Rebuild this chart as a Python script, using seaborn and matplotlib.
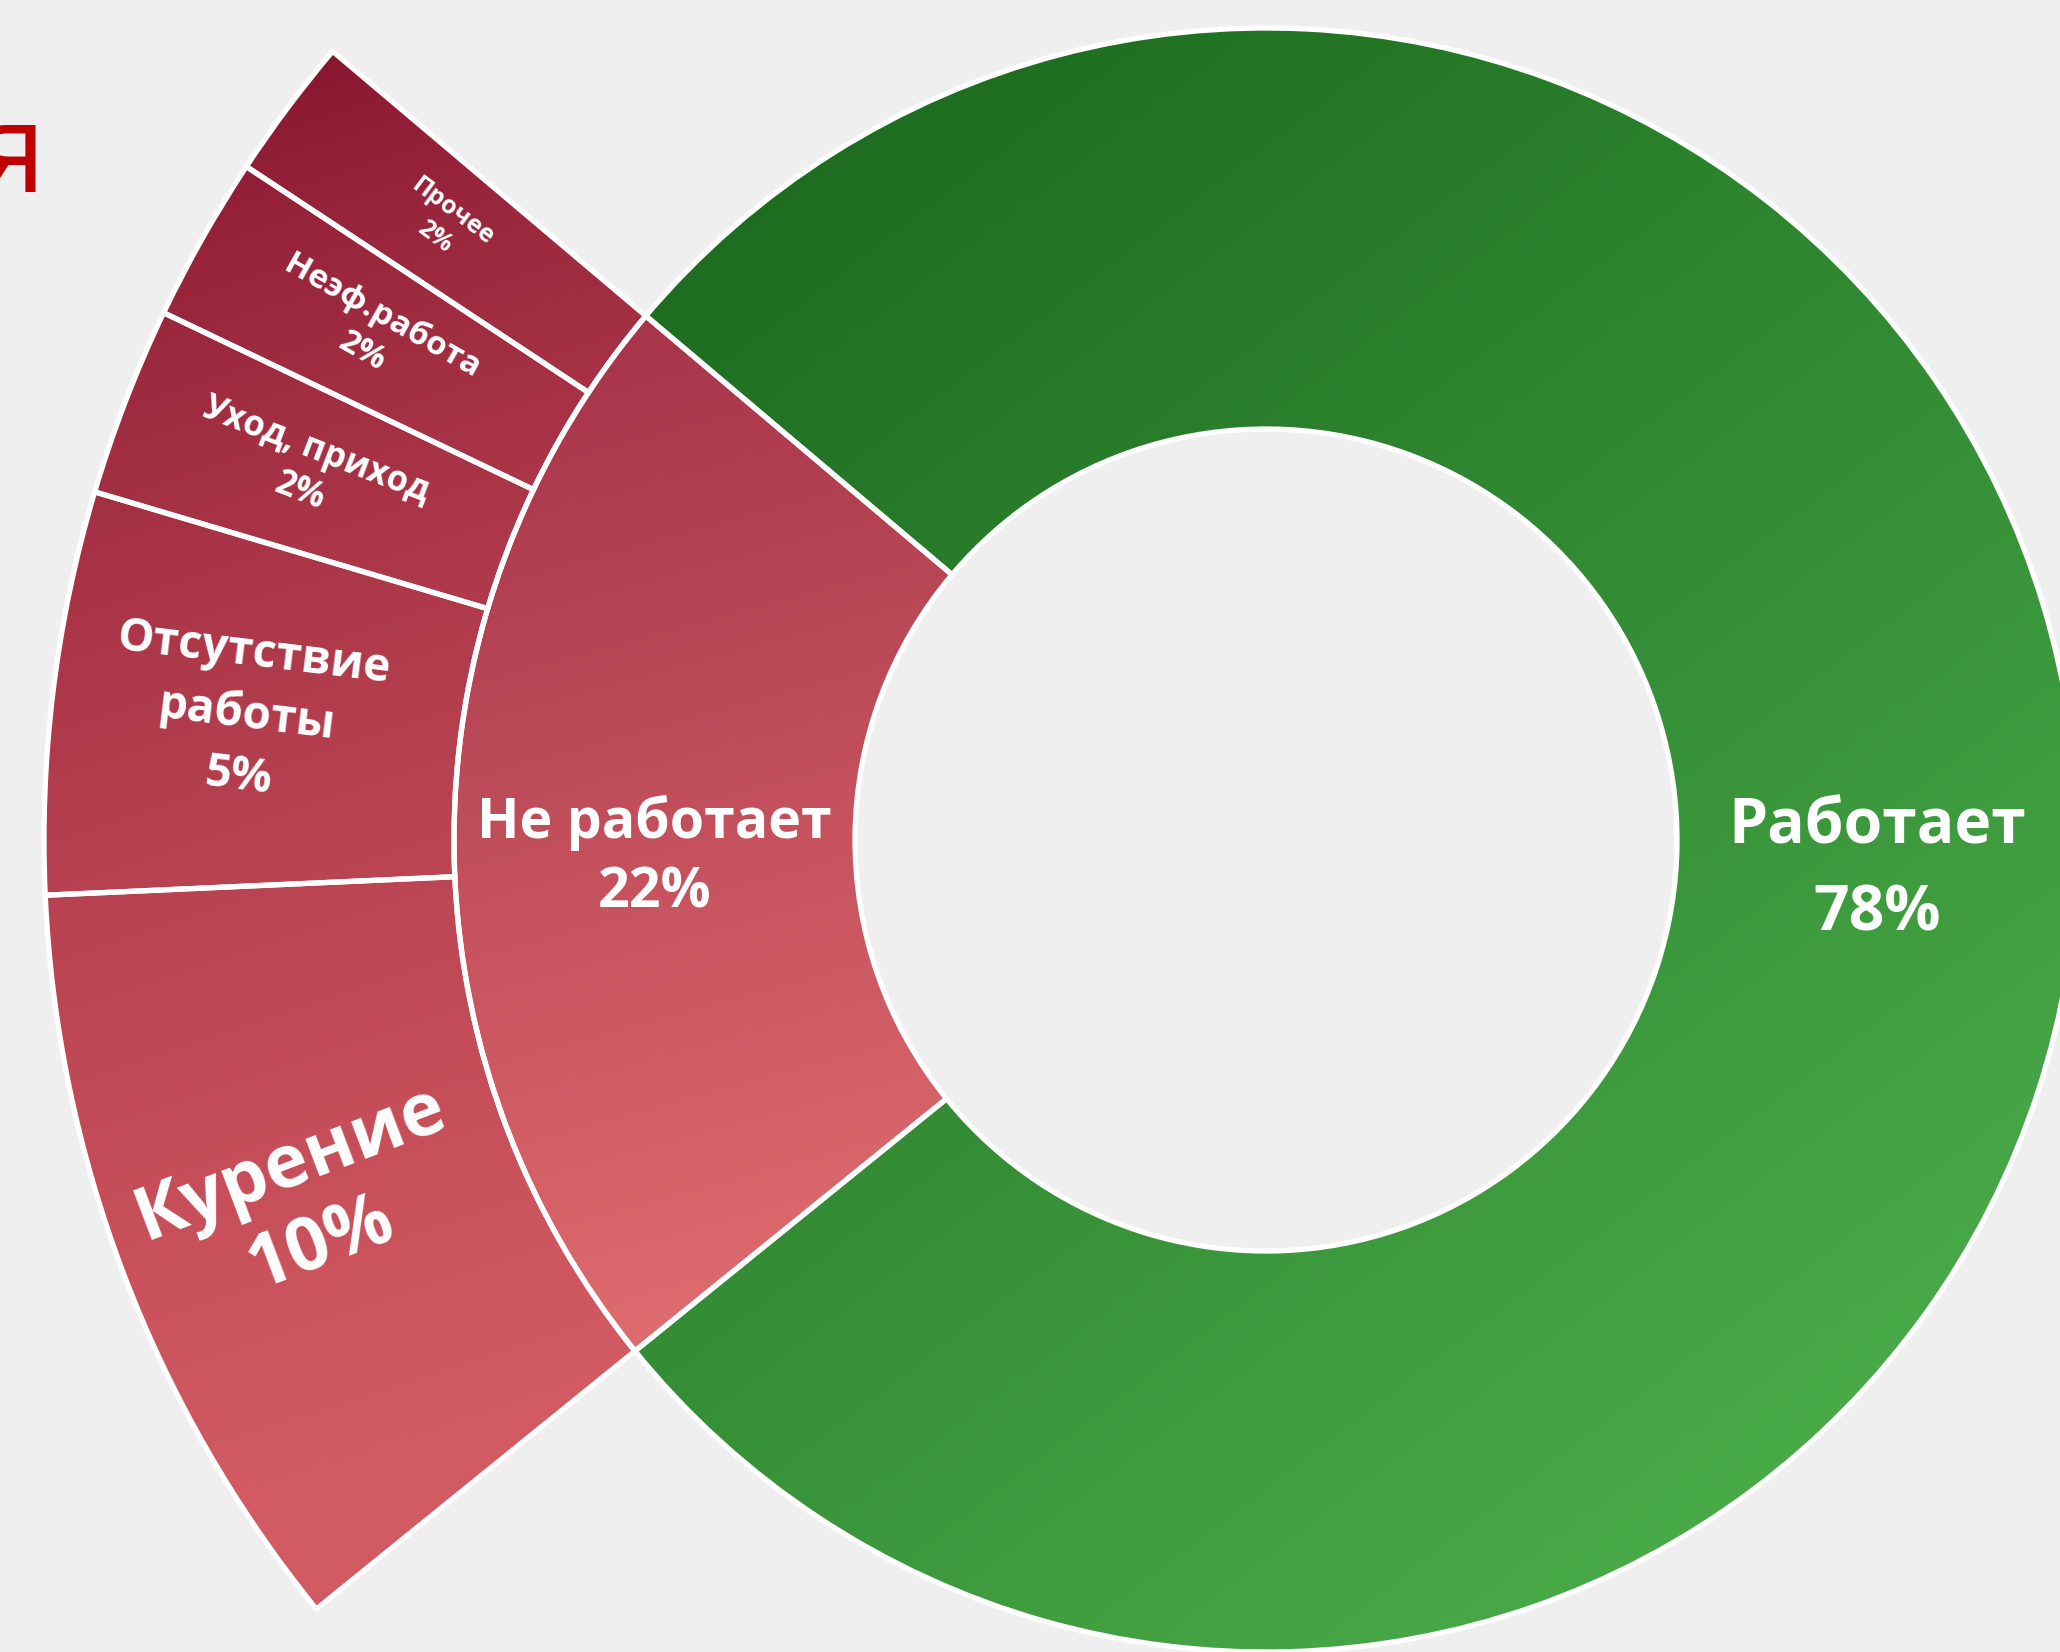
import numpy as np
import matplotlib
matplotlib.use("Agg")
import matplotlib.pyplot as plt
from matplotlib.colors import to_rgb
import seaborn as sns

# ---------------- data ----------------
main_labels = ["Не работает", "Работает"]
main_values = [22, 78]
main_pct_labels = ["22%", "78%"]

sub_labels = ["Прочее", "Неэф.работа", "Уход, приход", "Отсутствие\nработы", "Курение"]
sub_values = [1.8, 2.1, 2.4, 5.1, 9.7]
sub_pct_labels = ["2%", "2%", "2%", "5%", "10%"]

title_fragment = "я"

# ---------------- style ----------------
sns.set_theme(style="white")
plt.rcParams['font.family'] = ['Open Sans', 'DejaVu Sans']

W, H = 2060, 1652
BG = "#efefef"
fig = plt.figure(figsize=(W / 100, H / 100), dpi=100)
fig.patch.set_facecolor(BG)
ax = fig.add_axes([0, 0, 1, 1])
ax.set_facecolor(BG)

cx, cy = 1266, H - 840
r_hole, r_mid, r_out = 411, 812, 1222
start = 139.8
edge = dict(edgecolor="white", linewidth=3.8)

inner_wedges, _ = ax.pie(main_values, radius=r_mid, center=(cx, cy), startangle=start,
                         counterclock=True, colors=["#c8505a", "#338a33"],
                         wedgeprops=dict(width=r_mid - r_hole, **edge))
hidden = sum(sub_values) * main_values[1] / main_values[0]
outer_wedges, _ = ax.pie(sub_values + [hidden], radius=r_out, center=(cx, cy), startangle=start,
                         counterclock=True, colors=["#a02840"] * 6,
                         wedgeprops=dict(width=r_out - r_mid, **edge))
outer_wedges[-1].set_visible(False)

# gradient fills
step = 3
xs = np.arange(0, W, step) + step / 2
ys = np.arange(0, H, step) + step / 2
X, Y = np.meshgrid(xs, ys)


def grad(c0, c1, p0, p1, gamma=1.0):
    p0 = np.array([p0[0], H - p0[1]], float)
    p1 = np.array([p1[0], H - p1[1]], float)
    d = p1 - p0
    t = ((X - p0[0]) * d[0] + (Y - p0[1]) * d[1]) / (d @ d)
    t = np.clip(t, 0, 1) ** gamma
    t = t[..., None]
    a, b = np.array(to_rgb(c0)), np.array(to_rgb(c1))
    return a + t * (b - a)


img_green = grad("#1d6c1f", "#4db04c", (900, 60), (2000, 1500))
img_red_in = grad("#a8354a", "#de6b6e", (700, 330), (950, 1250))
img_red_out = grad("#86142f", "#d25a62", (300, 60), (720, 1330), gamma=0.7)

for w, img in [(inner_wedges[0], img_red_in), (inner_wedges[1], img_green)] + \
        [(w, img_red_out) for w in outer_wedges[:-1]]:
    im = ax.imshow(img, extent=(0, W, 0, H), origin="lower", interpolation="bilinear", zorder=2)
    im.set_clip_path(w)
    w.set_facecolor("none")
    w.set_zorder(3)

# labels
inner_sizes = [40, 45]
inner_spacing = [1.35, 1.5]
for w, name, pct, fs, ls in zip(inner_wedges, main_labels, main_pct_labels, inner_sizes, inner_spacing):
    mid = np.deg2rad((w.theta1 + w.theta2) / 2)
    rr = (r_hole + r_mid) / 2
    ax.text(cx + rr * np.cos(mid), cy + rr * np.sin(mid) - 24, f"{name}\n{pct}",
            ha="center", va="center", color="white", fontsize=fs, fontweight="bold",
            linespacing=ls, zorder=5)

sub_sizes = [18, 24, 25, 33, 53]
sub_spacing = [1.3, 1.3, 1.3, 1.4, 1.2]
for w, name, pct, fs, ls in zip(outer_wedges[:-1], sub_labels, sub_pct_labels, sub_sizes, sub_spacing):
    mdeg = (w.theta1 + w.theta2) / 2
    mid = np.deg2rad(mdeg)
    rr = (r_mid + r_out) / 2 + 10
    rot = mdeg - 180
    ax.text(cx + rr * np.cos(mid), cy + rr * np.sin(mid), f"{name}\n{pct}",
            ha="center", va="center", color="white", fontsize=fs, fontweight="bold",
            rotation=rot, rotation_mode="anchor", linespacing=ls, zorder=5)

fig.text(46 / W, 1 - 192 / H, title_fragment, color="#c00000", fontsize=90,
         ha="right", va="baseline")

ax.set_xlim(0, W)
ax.set_ylim(0, H)
ax.axis("off")
fig.savefig("out.png", dpi=100, facecolor=BG)
